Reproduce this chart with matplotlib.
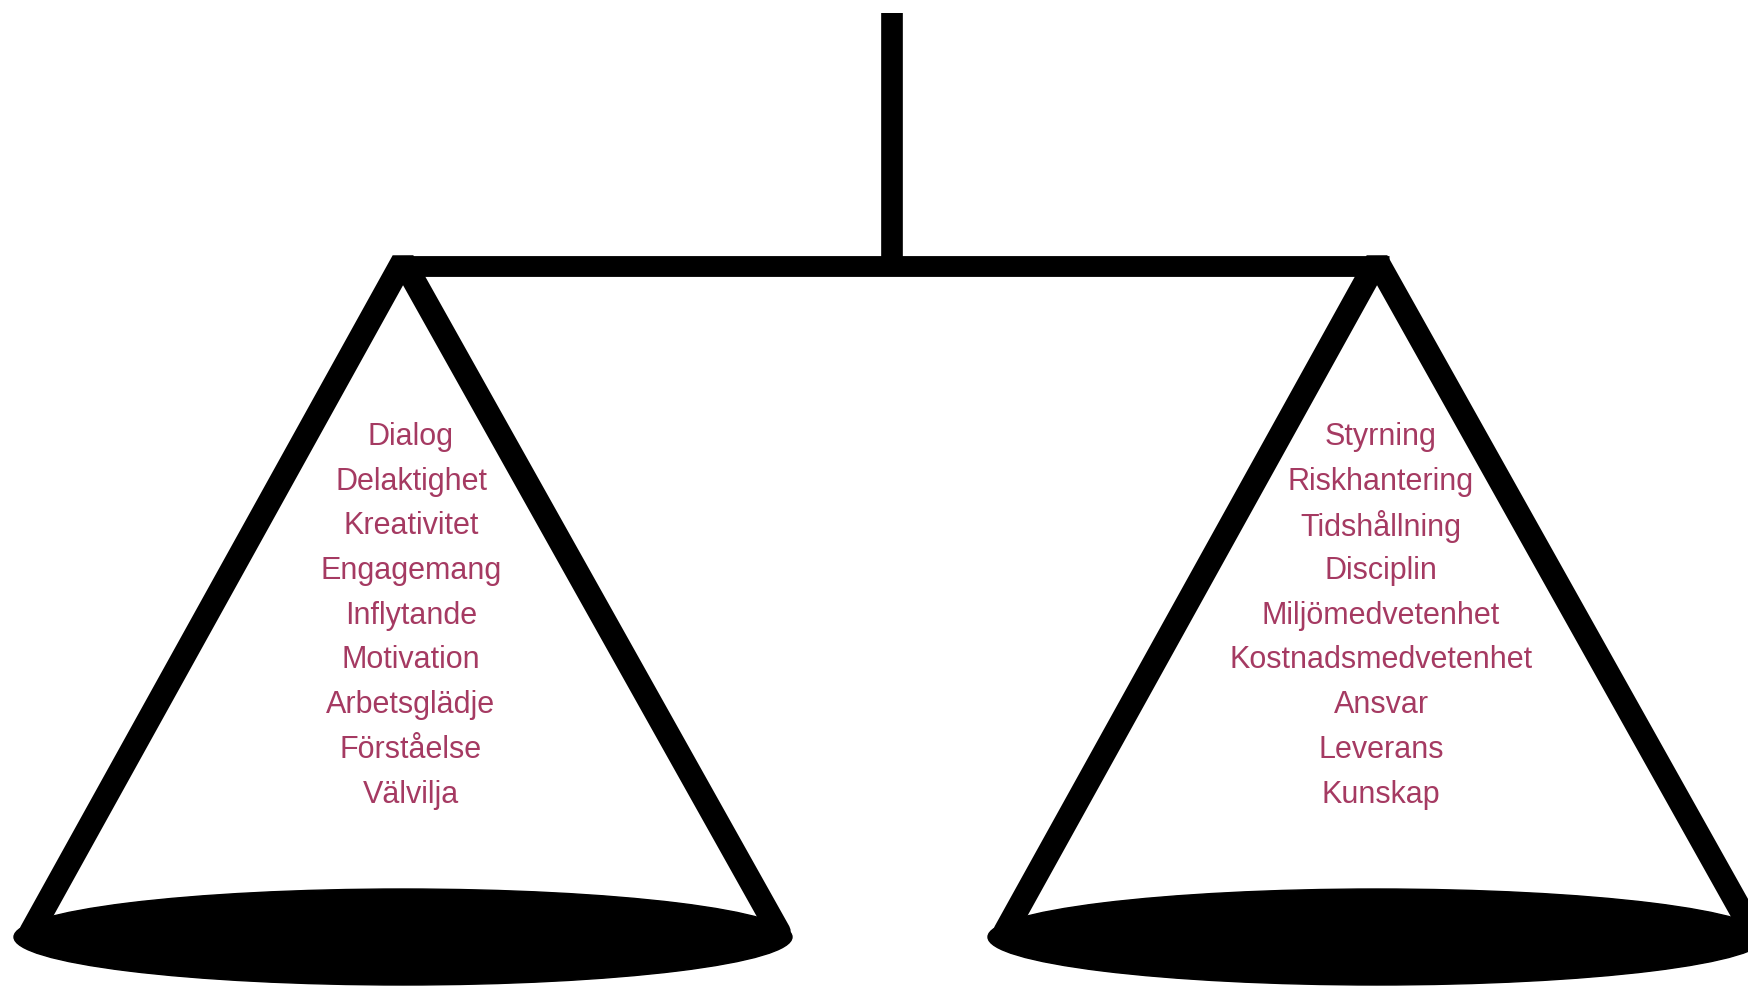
import matplotlib.pyplot as plt
from matplotlib.patches import Ellipse

left_words = ['Dialog', 'Delaktighet', 'Kreativitet', 'Engagemang', 'Inflytande',
              'Motivation', 'Arbetsglädje', 'Förståelse', 'Välvilja']
right_words = ['Styrning', 'Riskhantering', 'Tidshållning', 'Disciplin', 'Miljömedvetenhet',
               'Kostnadsmedvetenhet', 'Ansvar', 'Leverans', 'Kunskap']

text_color = '#a53a62'

fig = plt.figure(figsize=(17.48, 9.86), dpi=100)
ax = fig.add_axes([0, 0, 1, 1])
ax.set_xlim(0, 1748)
ax.set_ylim(986, 0)
ax.axis('off')

# stem and beam
ax.plot([892, 892], [13, 266], color='black', lw=15.6, solid_capstyle='butt')
ax.plot([394, 1389], [265.5, 265.5], color='black', lw=15, solid_capstyle='butt')


def draw_pan(cx, tx, words):
    # legs of the pan
    ax.plot([cx - 372, cx, cx + 376], [932, 261, 932], color='black', lw=17,
            solid_joinstyle='bevel', solid_capstyle='round')
    # pan
    ax.add_patch(Ellipse((cx, 937), 778, 96, color='black', zorder=3))
    # words
    for i, w in enumerate(words):
        ax.text(tx, 437 + i * 44.7, w, ha='center', va='center', fontsize=22,
                color=text_color, family='Liberation Sans')


draw_pan(403, 411, left_words)
draw_pan(1377, 1381, right_words)

plt.savefig('out.png')
